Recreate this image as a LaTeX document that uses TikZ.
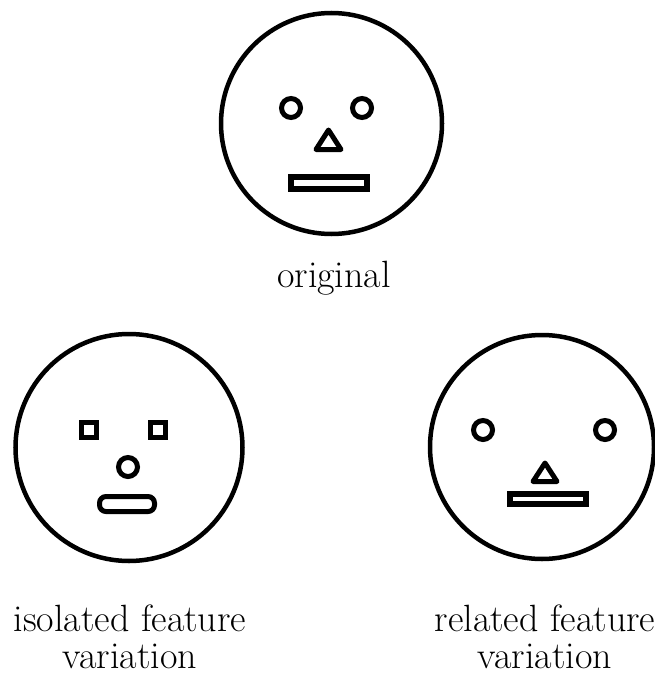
\documentclass[tikz,border=0pt]{standalone}
\begin{document}
\begin{tikzpicture}[x=1pt,y=-1pt,
  face/.style={line width=4.5pt},
  feat/.style={line width=5pt, line join=miter},
  lbl/.style={font=\fontsize{38}{37}\selectfont, align=center, inner sep=0pt}]
\useasboundingbox (0,0) rectangle (655,674);
% top face (original)
\draw[face] (331.5,123.5) circle (110.5);
\draw[feat] (291,108) circle (9.5);
\draw[feat] (362,108) circle (9.5);
\draw[feat, line join=round] (328.5,130) -- (341,149.5) -- (316,149.5) -- cycle;
\draw[feat, line width=6pt] (291,177) rectangle (367,189);
\node[lbl, anchor=base] (orig) at (334,287) {original};
% bottom-left face (isolated)
\draw[face] (129,447.5) circle (113.5);
\draw[feat] (81.5,422.5) rectangle (96.5,437.5);
\draw[feat] (150.5,422.5) rectangle (165.5,437.5);
\draw[feat] (128,467) circle (9.5);
\draw[feat, rounded corners=6.5pt] (99.5,496.5) rectangle (154.5,511.5);
\node[lbl, anchor=base] (iso) at (130,668) {isolated feature\\variation};
% bottom-right face (related)
\draw[face] (542,447) circle (112);
\draw[feat] (483,430) circle (9.5);
\draw[feat] (605,430) circle (9.5);
\draw[feat, line join=round] (545,463) -- (557,481.5) -- (533,481.5) -- cycle;
\draw[feat, line width=6pt] (510,494) rectangle (586,504);
\node[lbl, anchor=base] (rel) at (545,668) {related feature\\variation};
\end{tikzpicture}
\end{document}
